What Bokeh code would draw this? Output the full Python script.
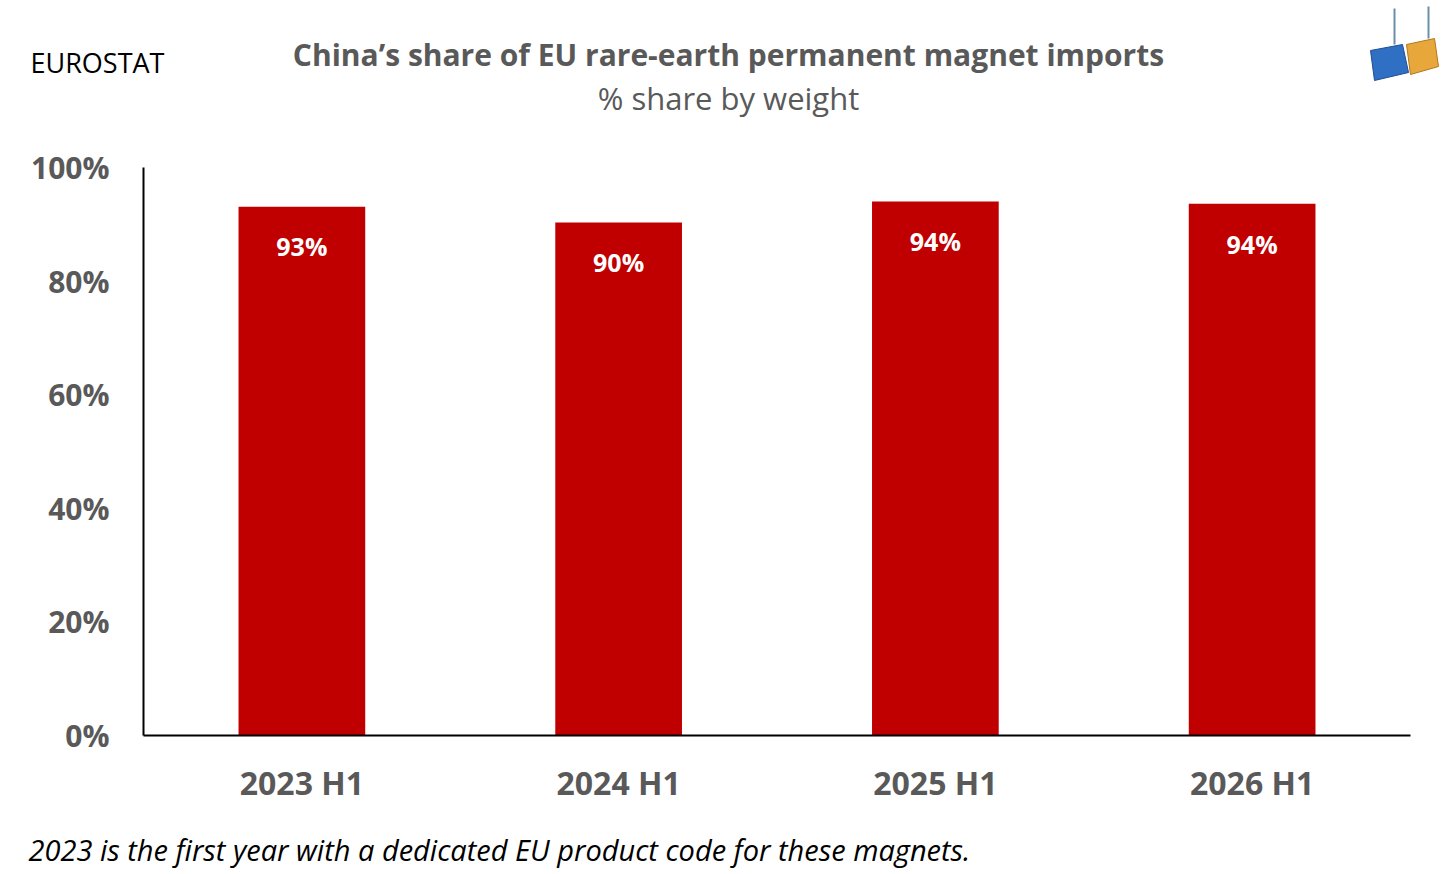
from bokeh.plotting import figure
from bokeh.layouts import column
from bokeh.models import Range1d, PrintfTickFormatter, FixedTicker, ColumnDataSource
from bokeh.core.properties import value
from bokeh.embed import file_html
from bokeh.resources import INLINE

periods = ["2023 H1", "2024 H1", "2025 H1", "2026 H1"]
shares = [93.1, 90.3, 94.0, 93.6]
share_labels = ["93%", "90%", "94%", "94%"]
y_ticks = [0, 20, 40, 60, 80, 100]

W = 1440
HEAD_H, MAIN_H, FOOT_H = 140, 666, 68
FONT = "Open Sans"
GREY = "#595959"

def blank(h):
    f = figure(width=W, height=h, x_range=Range1d(0, W), y_range=Range1d(h, 0),
               x_axis_type=None, y_axis_type=None, output_backend="svg",
               toolbar_location=None, min_border=0, frame_align=False)
    f.outline_line_color = None
    f.xgrid.grid_line_color = None
    f.ygrid.grid_line_color = None
    return f

# ---- header ----
head = blank(HEAD_H)
head.text(x=[30], y=[62], text=["EUROSTAT"], text_font=value(FONT), text_font_size="27px",
          text_color="black", text_align="left", text_baseline="middle")
head.text(x=[728], y=[54], text=["China\u2019s share of EU rare-earth permanent magnet imports"],
          text_font=value(FONT), text_font_size="30px", text_font_style="bold",
          text_color=GREY, text_align="center", text_baseline="middle")
head.text(x=[728], y=[97], text=["% share by weight"], text_font=value(FONT),
          text_font_size="31px", text_color=GREY, text_align="center", text_baseline="middle")
# simplified container logo
head.segment(x0=[1394, 1428], y0=[44, 38], x1=[1394, 1428], y1=[8, 6], line_color="#6B8FA8", line_width=2)
head.patch([1370, 1402, 1408, 1374], [50, 44, 72, 80], fill_color="#2F6FC4", line_color="#1F4F90")
head.patch([1406, 1434, 1438, 1410], [44, 38, 66, 74], fill_color="#E8A73A", line_color="#B07820")

# ---- main chart ----
p = figure(x_range=periods, y_range=Range1d(0, 100), width=W, height=MAIN_H,
           output_backend="svg", toolbar_location=None, frame_align=False,
           min_border_left=143, min_border_right=W - 1410, min_border_top=27,
           min_border_bottom=70)
p.outline_line_color = None
p.xgrid.grid_line_color = None
p.ygrid.grid_line_color = None

src = ColumnDataSource(dict(x=periods, top=shares, lab=share_labels,
                            ly=[s - 7 for s in shares]))
p.vbar(x="x", top="top", width=0.4, source=src, color="#C00000", line_color=None)
p.text(x="x", y="ly", text="lab", source=src, text_color="white",
       text_font=value(FONT), text_font_style="bold", text_font_size="25px",
       text_align="center", text_baseline="middle")

p.yaxis.ticker = FixedTicker(ticks=y_ticks)
p.yaxis.formatter = PrintfTickFormatter(format="%d%%")
for ax in (p.xaxis, p.yaxis):
    ax.axis_line_color = "black"
    ax.axis_line_width = 2
    ax.major_tick_line_color = None
    ax.minor_tick_line_color = None
    ax.major_label_text_font = FONT
    ax.major_label_text_font_style = "bold"
    ax.major_label_text_font_size = "30px"
    ax.major_label_text_color = GREY
p.xaxis.major_label_text_font_size = "32px"
p.yaxis.major_label_standoff = 28
p.xaxis.major_label_standoff = 19

# ---- footer ----
foot = blank(FOOT_H)
foot.text(x=[28], y=[43], text=["2023 is the first year with a dedicated EU product code for these magnets."],
          text_font=value(FONT), text_font_size="29px", text_font_style="italic",
          text_color="black", text_align="left", text_baseline="middle")

layout = column(head, p, foot, spacing=0)
open("out.html", "w").write(file_html(layout, INLINE))
